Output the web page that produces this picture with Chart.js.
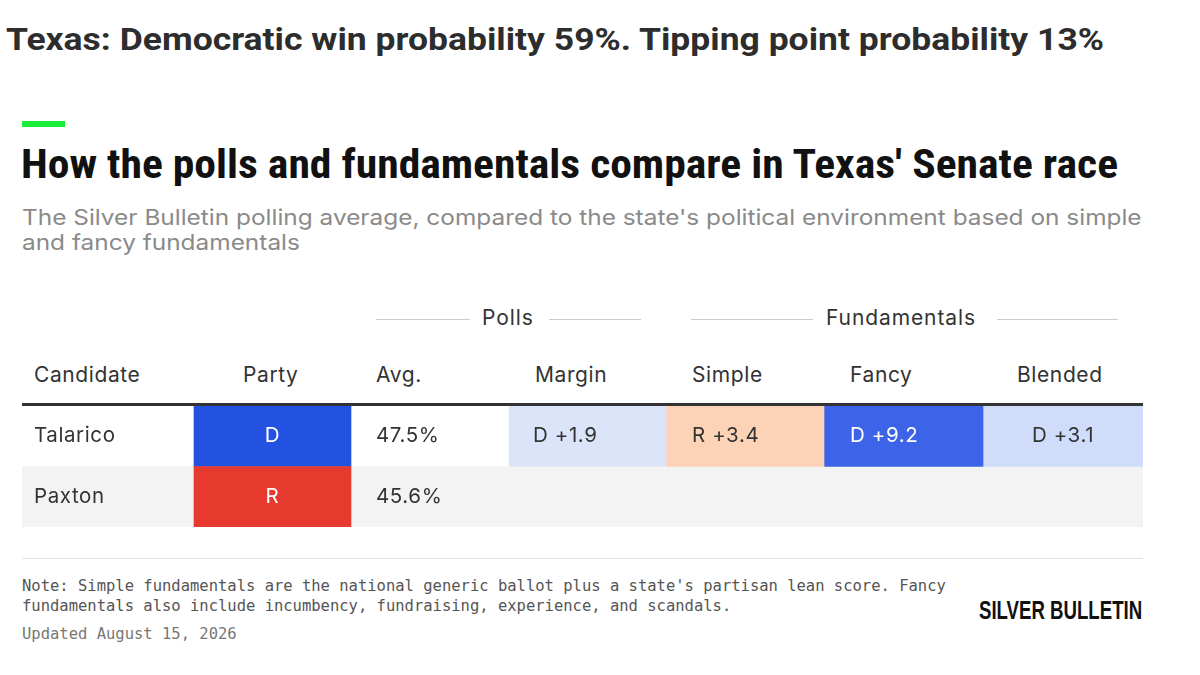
<!DOCTYPE html>
<html><head><meta charset="utf-8">
<script src="https://cdn.jsdelivr.net/npm/chart.js@4.4.1/dist/chart.umd.min.js"></script>
<style>
body{margin:0;width:1200px;height:675px;background:#fff;position:relative;overflow:hidden;font-family:Inter,"Liberation Sans",sans-serif;color:#333}
.a{position:absolute;white-space:nowrap;transform-origin:left top}
#top{left:6px;top:21px;font:700 31px Roboto,sans-serif;color:#2d2d2d;transform:scaleX(1.145)}
#bar{left:22px;top:121px;width:43px;height:6px;background:#19ee3a}
#h{left:21px;top:140px;font:700 41px "Liberation Sans Narrow","Roboto Condensed",sans-serif;color:#111;transform:scaleX(1.063)}
#sub{left:22px;top:205px;font:21.5px Inter,sans-serif;color:#8a8a8a;line-height:25px;transform:scaleX(1.135)}
.grp{top:305px;font:21px Inter,sans-serif;color:#333;letter-spacing:0.9px}
.ln{height:1px;background:#ccc;top:319px}
.hd{top:362px;font:21px Inter,sans-serif;color:#333;letter-spacing:0.6px}
#thick{left:22px;top:403px;width:1121px;height:3px;background:#333}
#foot{left:22px;top:558px;width:1121px;height:1px;background:#e3e3e3}
.note{left:22px;font:15.5px "DejaVu Sans Mono",monospace;color:#555;line-height:20px}
#logo{left:979px;top:596px;font:700 25px "Liberation Sans Narrow",sans-serif;color:#111;transform:scaleX(0.745)}
#wrap{position:absolute;left:22px;top:406px;width:1121px;height:121px}
</style></head><body>
<div class="a" id="top">Texas: Democratic win probability 59%. Tipping point probability 13%</div>
<div class="a" id="bar"></div>
<div class="a" id="h">How the polls and fundamentals compare in Texas' Senate race</div>
<div class="a" id="sub">The Silver Bulletin polling average, compared to the state's political environment based on simple<br>and fancy fundamentals</div>
<div class="a ln" style="left:376px;width:94px"></div>
<div class="a grp" style="left:482px">Polls</div>
<div class="a ln" style="left:549px;width:92px"></div>
<div class="a ln" style="left:691px;width:122px"></div>
<div class="a grp" style="left:826px">Fundamentals</div>
<div class="a ln" style="left:997px;width:121px"></div>
<div class="a hd" style="left:34px">Candidate</div>
<div class="a hd" style="left:243px">Party</div>
<div class="a hd" style="left:376px">Avg.</div>
<div class="a hd" style="left:535px">Margin</div>
<div class="a hd" style="left:692px">Simple</div>
<div class="a hd" style="left:850px">Fancy</div>
<div class="a hd" style="left:1017px">Blended</div>
<div class="a" id="thick"></div>
<div id="wrap"><canvas id="c"></canvas></div>
<div class="a" id="foot"></div>
<div class="a note" style="top:576px">Note: Simple fundamentals are the national generic ballot plus a state's partisan lean score. Fancy<br>fundamentals also include incumbency, fundraising, experience, and scandals.</div>
<div class="a note" style="top:624px;color:#777">Updated August 15, 2026</div>
<div class="a" id="logo">SILVER BULLETIN</div>
<script>
const candidates = ['Talarico', 'Paxton'];
const parties = ['D', 'R'];
const avgs = ['47.5%', '45.6%'];
const margins = ['D +1.9', ''];
const simple = ['R +3.4', ''];
const fancy = ['D +9.2', ''];
const blended = ['D +3.1', ''];

const edges = [0, 172, 329, 487, 644, 802, 961, 1121];
const rowBg = ['#ffffff', '#f3f3f3'];

function shade(v) {
  if (!v) return 'rgba(0,0,0,0)';
  const n = parseFloat(v.split('+')[1]);
  if (v[0] === 'D') return n > 6 ? '#3d63e8' : (n > 2.5 ? '#cfdcfa' : '#dce4fa');
  return '#fdd3b7';
}
function ink(v) { return v && parseFloat(v.split('+')[1]) > 6 ? '#fff' : '#333'; }

const cols = [
  {vals: candidates, bg: () => 'rgba(0,0,0,0)', fg: () => '#333', pad: 12},
  {vals: parties, bg: v => v === 'D' ? '#2352e0' : '#e73a2f', fg: () => '#fff', center: true},
  {vals: avgs, bg: () => 'rgba(0,0,0,0)', fg: () => '#333', pad: 25},
  {vals: margins, bg: shade, fg: ink, pad: 24},
  {vals: simple, bg: shade, fg: ink, pad: 26},
  {vals: fancy, bg: shade, fg: ink, pad: 26},
  {vals: blended, bg: shade, fg: ink, center: true}
];

const datasets = [{
  data: candidates.map(() => [edges[0], edges[edges.length - 1]]),
  backgroundColor: rowBg, order: 10
}].concat(cols.map((c, i) => ({
  data: c.vals.map(() => [edges[i], edges[i + 1]]),
  backgroundColor: c.vals.map(c.bg), order: 1
})));

const labelPlugin = {
  id: 'cellText',
  afterDatasetsDraw(chart) {
    const ctx = chart.ctx;
    ctx.save();
    ctx.font = '20.5px Inter, "Liberation Sans", sans-serif';
    ctx.letterSpacing = '0.6px';
    ctx.textBaseline = 'middle';
    cols.forEach((c, i) => {
      chart.getDatasetMeta(i + 1).data.forEach((el, r) => {
        const v = c.vals[r];
        if (!v) return;
        const x0 = Math.min(el.x, el.base), x1 = Math.max(el.x, el.base);
        ctx.fillStyle = c.fg(v);
        if (c.center) { ctx.textAlign = 'center'; ctx.fillText(v, (x0 + x1) / 2, el.y); }
        else { ctx.textAlign = 'left'; ctx.fillText(v, x0 + c.pad, el.y); }
      });
    });
    ctx.restore();
  }
};

new Chart(document.getElementById('c'), {
  type: 'bar',
  data: {labels: candidates, datasets},
  options: {
    indexAxis: 'y', responsive: true, maintainAspectRatio: false, animation: false,
    layout: {padding: 0},
    datasets: {bar: {grouped: false, barPercentage: 1, categoryPercentage: 1, borderWidth: 0, borderSkipped: false}},
    plugins: {legend: {display: false}, tooltip: {enabled: false}},
    scales: {
      x: {type: 'linear', min: 0, max: 1121, display: false},
      y: {display: false}
    }
  },
  plugins: [labelPlugin]
});
</script>
</body></html>
